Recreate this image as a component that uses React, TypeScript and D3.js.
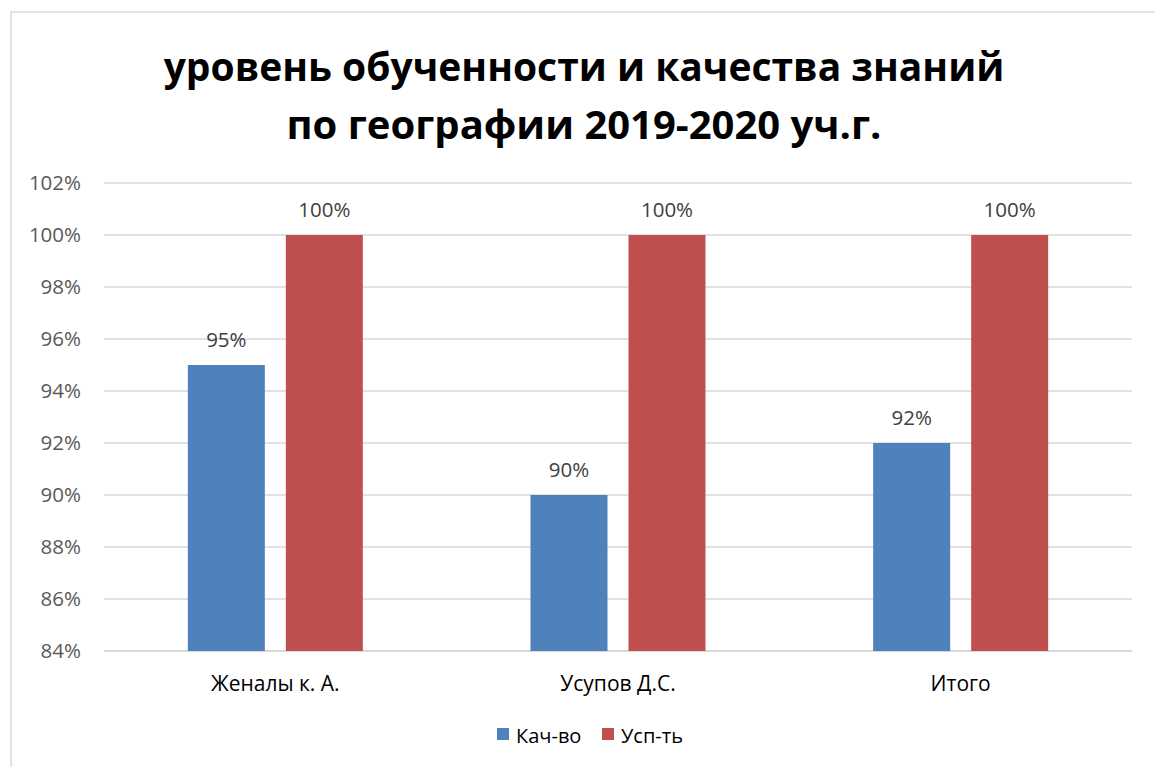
import * as d3 from "d3"

const TITLE_LINES = ["уровень обученности и качества знаний", "по географии 2019-2020 уч.г."]
const CATEGORIES = ["Женалы к. А.", "Усупов Д.С.", "Итого"]
const SERIES = ["Кач-во", "Усп-ть"]
const KACH = [0.95, 0.9, 0.92]
const USP = [1.0, 1.0, 1.0]
const TICKS = [0.84, 0.86, 0.88, 0.9, 0.92, 0.94, 0.96, 0.98, 1.0, 1.02]
const COLORS = ["#4F81BD", "#C0504D"]

const W = 1155
const H = 767
const FONT = "'Open Sans', 'Noto Sans', sans-serif"

export default function App() {
  const plot = { left: 104, right: 1132, top: 183, bottom: 651 }

  const y = d3.scaleLinear().domain([0.84, 1.02]).range([plot.bottom, plot.top])
  const x0 = d3.scaleBand<string>().domain(CATEGORIES).range([plot.left, plot.right])
  const barW = 77
  const gap = 21
  const x1 = d3
    .scaleOrdinal<string, number>()
    .domain(SERIES)
    .range([-(barW + gap / 2), gap / 2])

  const values = [KACH, USP]
  const pct = d3.format(".0%")

  return (
    <svg
      width={W}
      height={H}
      viewBox={`0 0 ${W} ${H}`}
      style={{ position: "absolute", left: 0, top: 0, background: "#fff" }}
    >
      <rect x={11} y={12} width={1200} height={800} fill="#fff" stroke="#D9D9D9" strokeWidth={1.5} />

      {/* title: the two lines are sized a touch apart to match the original's widths */}
      {TITLE_LINES.map((t, i) => (
        <text
          key={i}
          x={584}
          y={81 + i * 58}
          textAnchor="middle"
          fontFamily={FONT}
          fontWeight={700}
          fontSize={i === 0 ? 39 : 40}
          fill="#000"
        >
          {t}
        </text>
      ))}

      {/* gridlines + y labels */}
      <g>
        {TICKS.map((t) => (
          <g key={t}>
            <line
              x1={plot.left}
              x2={plot.right}
              y1={y(t)}
              y2={y(t)}
              stroke="#D9D9D9"
              strokeWidth={t === 0.84 ? 2 : 1.5}
            />
            <text
              x={81}
              y={y(t) + 7}
              textAnchor="end"
              fontFamily={FONT}
              fontSize={20.5}
              fill="#595959"
            >
              {pct(t)}
            </text>
          </g>
        ))}
      </g>

      {/* bars */}
      {CATEGORIES.map((c, ci) => {
        const cx = x0(c)! + x0.bandwidth() / 2
        return (
          <g key={c}>
            {SERIES.map((s, si) => {
              const v = values[si][ci]
              const bx = cx + x1(s)
              return (
                <g key={s}>
                  <rect
                    x={bx}
                    y={y(v)}
                    width={barW}
                    height={y(0.84) - y(v)}
                    fill={COLORS[si]}
                  />
                  <text
                    x={bx + barW / 2}
                    y={y(v) - 18}
                    textAnchor="middle"
                    fontFamily={FONT}
                    fontSize={20.5}
                    fill="#404040"
                  >
                    {pct(v)}
                  </text>
                </g>
              )
            })}
            <text
              x={cx}
              y={691}
              textAnchor="middle"
              fontFamily={FONT}
              fontSize={21}
              fill="#000"
            >
              {c}
            </text>
          </g>
        )
      })}

      {/* legend */}
      <g fontFamily={FONT} fontSize={20} fill="#000">
        {SERIES.map((s, i) => {
          const lx = [497, 602][i]
          return (
            <g key={s}>
              <rect x={lx} y={728} width={12} height={12} fill={COLORS[i]} />
              <text x={lx + 19} y={743}>
                {s}
              </text>
            </g>
          )
        })}
      </g>
    </svg>
  )
}
